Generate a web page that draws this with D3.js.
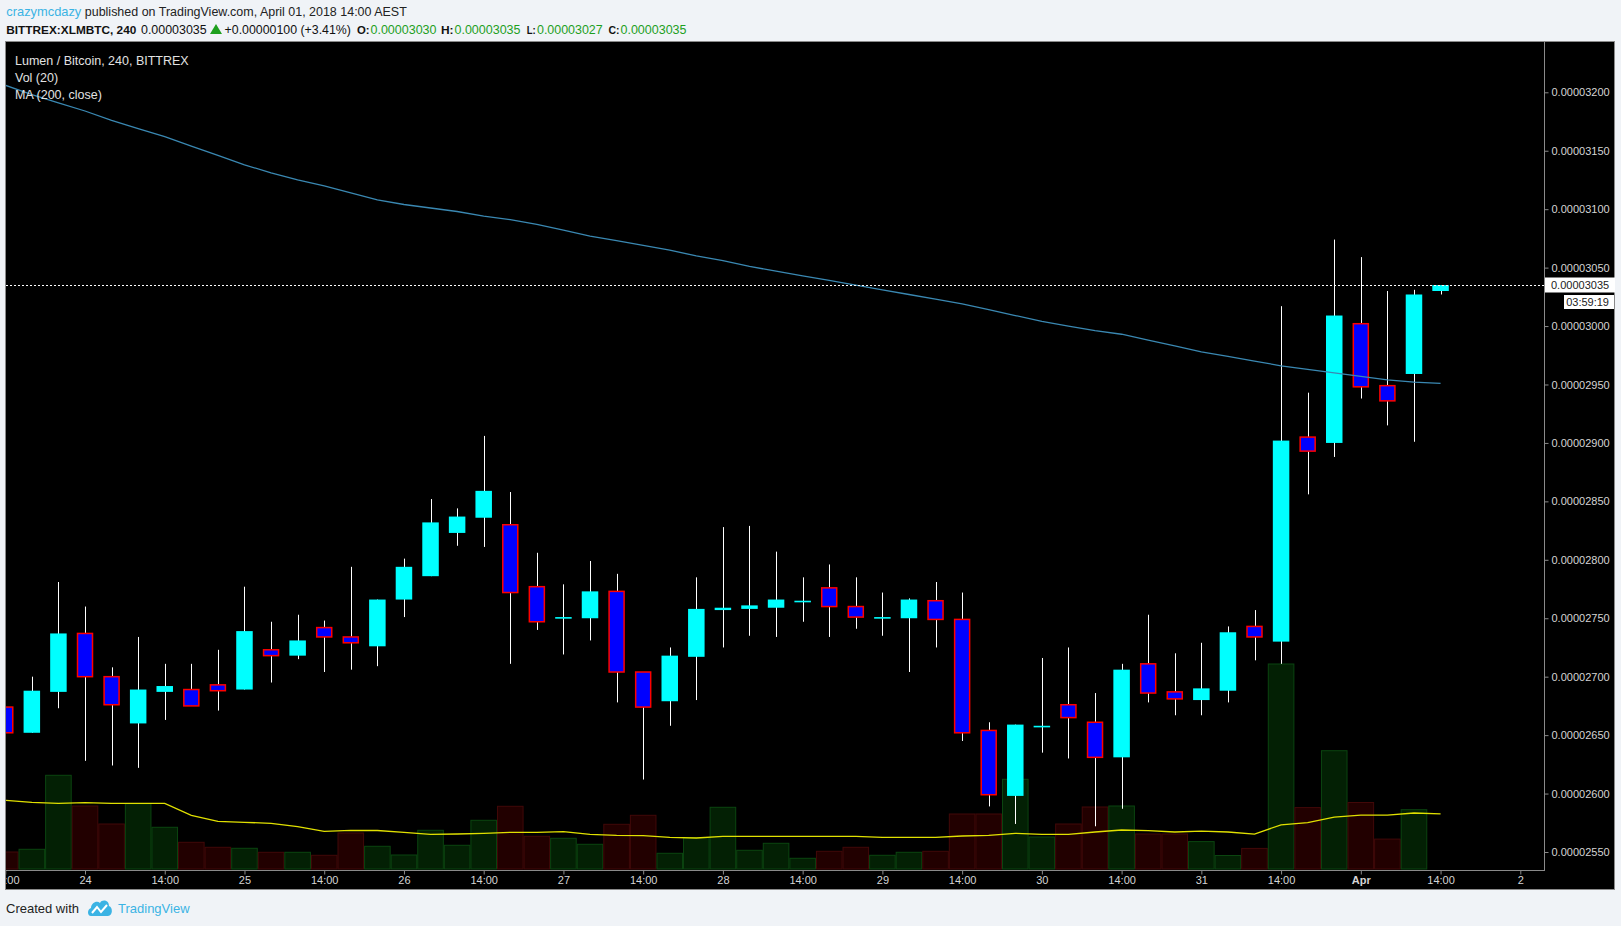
<!DOCTYPE html>
<html>
<head>
<meta charset="utf-8">
<script src="https://cdnjs.cloudflare.com/ajax/libs/d3/7.8.5/d3.min.js"></script>
<style>
  body { margin: 0; background: #f0f3f7; }
  svg text { font-family: "Liberation Sans", Arial, sans-serif; }
</style>
</head>
<body>
<div id="chart"></div>
<script>

// prices are in units of 0.00000001 BTC, first candle is index -3 (23rd, 14:00)
var firstIndex = -3;

var opens  = [2674, 2652, 2687, 2737, 2700, 2660, 2687, 2689, 2693, 2689, 2723, 2718, 2742, 2734,
              2726, 2766, 2786, 2823, 2836, 2830, 2777, 2751, 2750, 2773, 2704, 2679, 2717, 2757,
              2758, 2759, 2765, 2776, 2760, 2751, 2750, 2765, 2749, 2654, 2598, 2658, 2676, 2661,
              2631, 2711, 2687, 2680, 2688, 2743, 2730, 2905, 2900, 3002, 2949, 2959, 3030];
var highs  = [2676, 2700, 2781, 2760, 2708, 2734, 2711, 2711, 2723, 2777, 2747, 2753, 2748, 2794,
              2766, 2801, 2852, 2844, 2906, 2858, 2806, 2779, 2799, 2788, 2704, 2725, 2785, 2828,
              2829, 2807, 2785, 2796, 2785, 2772, 2767, 2781, 2772, 2661, 2659, 2716, 2725, 2686,
              2711, 2753, 2720, 2729, 2743, 2757, 3017, 2943, 3074, 3059, 3030, 3031, 3035];
var lows   = [2650, 2652, 2673, 2628, 2624, 2622, 2663, 2675, 2671, 2689, 2695, 2715, 2704, 2706,
              2709, 2751, 2786, 2812, 2811, 2711, 2740, 2719, 2731, 2678, 2612, 2658, 2680, 2725,
              2735, 2734, 2747, 2734, 2741, 2735, 2704, 2725, 2645, 2589, 2574, 2635, 2630, 2572,
              2587, 2678, 2667, 2667, 2678, 2714, 2711, 2856, 2888, 2938, 2915, 2901, 3027];
var closes = [2652, 2688, 2737, 2700, 2676, 2689, 2692, 2675, 2688, 2739, 2718, 2731, 2734, 2729,
              2766, 2794, 2832, 2837, 2859, 2772, 2747, 2751, 2773, 2704, 2674, 2718, 2758, 2759,
              2761, 2766, 2765, 2760, 2751, 2751, 2766, 2749, 2652, 2599, 2659, 2658, 2665, 2631,
              2706, 2686, 2681, 2690, 2738, 2734, 2902, 2893, 3009, 2948, 2936, 3027, 3035];

// volume (relative units) and its 20 period average
var volumes  = [170, 197, 937, 630, 450, 653, 417, 267, 217, 207, 167, 167, 137, 360,
                227, 140, 387, 237, 487, 627, 327, 307, 247, 447, 537, 157, 313, 617,
                187, 257, 107, 177, 217, 137, 167, 177, 550, 550, 897, 320, 450, 620,
                630, 350, 350, 274, 135, 206, 2050, 614, 1183, 665, 299, 593, 0];
var volumeMA = [687, 667, 657, 663, 657, 657, 657, 537, 477, 467, 457, 423, 377, 387,
                385, 367, 347, 350, 357, 367, 367, 373, 347, 337, 333, 317, 310, 327,
                327, 327, 327, 327, 327, 317, 317, 317, 330, 337, 357, 347, 347, 370,
                390, 383, 370, 379, 370, 349, 442, 463, 518, 539, 539, 560, 551];

// MA (200, close)
var ma200 = [3206, 3198, 3191, 3184, 3176, 3169, 3162, 3154, 3146, 3138, 3131, 3125, 3120, 3114,
             3108, 3104, 3101, 3098, 3094, 3091, 3087, 3082, 3077, 3073, 3069, 3065, 3060, 3056,
             3051, 3047, 3043, 3039, 3035, 3031, 3027, 3023, 3019, 3014, 3009, 3004, 3000, 2996,
             2993, 2988, 2983, 2978, 2974, 2970, 2966, 2963, 2960, 2957, 2954, 2952, 2951];

var timeTicks  = [-3, 0, 3, 6, 9, 12, 15, 18, 21, 24, 27, 30, 33, 36, 39, 42, 45, 48, 51, 54];
var timeLabels = ["14:00", "24", "14:00", "25", "14:00", "26", "14:00", "27", "14:00", "28",
                  "14:00", "29", "14:00", "30", "14:00", "31", "14:00", "Apr", "14:00", "2"];
var priceTicks = d3.range(2550, 3201, 50);
var lastPrice = 3035;
var countdown = "03:59:19";

var candles = opens.map(function(o, k) {
  return {i: k + firstIndex, o: o, h: highs[k], l: lows[k], c: closes[k],
          v: volumes[k], vma: volumeMA[k], ma: ma200[k]};
});

var width = 1621, height = 926;
var plotLeft = 6, plotRight = 1544, plotTop = 42, plotBottom = 870;

var svg = d3.select("#chart").append("svg")
  .attr("width", width)
  .attr("height", height);

var x = d3.scaleLinear().domain([0, 54]).range([85, 1520.3]);
var y = d3.scaleLinear().domain([2550, 3200]).range([852, 92.3]);
var yv = d3.scaleLinear().domain([0, 2050]).range([869, 664]);
var step = x(1) - x(0);

function fmt(p) { return (p / 1e8).toFixed(8); }

// ---- header
svg.append("text")
  .attr("x", 6.3).attr("y", 16)
  .attr("font-size", "13px")
  .attr("fill", "#3bb3e4")
  .attr("textLength", 75).attr("lengthAdjust", "spacingAndGlyphs")
  .text("crazymcdazy");
svg.append("text")
  .attr("x", 84.8).attr("y", 16)
  .attr("font-size", "12.5px")
  .attr("fill", "#222")
  .attr("textLength", 322).attr("lengthAdjust", "spacingAndGlyphs")
  .text("published on TradingView.com, April 01, 2018 14:00 AEST");

var green = "#1ea01e";
var headParts = [
  {x: 6.3,   w: 130, t: "BITTREX:XLMBTC, 240", b: true, c: "#111"},
  {x: 141,   w: 65.7, t: "0.00003035", b: false, c: "#111"},
  {x: 224.6, w: 126.3, t: "+0.00000100 (+3.41%)", b: false, c: "#111"},
  {x: 357,   w: 12.6, t: "O:", b: true, c: "#111"},
  {x: 370.5, w: 66, t: fmt(opens[opens.length - 1]), b: false, c: green},
  {x: 441,   w: 12.6, t: "H:", b: true, c: "#111"},
  {x: 454.5, w: 66, t: fmt(highs[highs.length - 1]), b: false, c: green},
  {x: 526.8, w: 9, t: "L:", b: true, c: "#111"},
  {x: 537,   w: 65.7, t: fmt(lows[lows.length - 1]), b: false, c: green},
  {x: 608.5, w: 11, t: "C:", b: true, c: "#111"},
  {x: 620.5, w: 66, t: fmt(closes[closes.length - 1]), b: false, c: green}
];
svg.selectAll(".head2")
  .data(headParts)
  .enter()
  .append("text")
  .attr("class", "head2")
  .attr("x", function(d){ return d.x; })
  .attr("y", 34)
  .attr("font-size", function(d){ return d.b ? "11.5px" : "12.5px"; })
  .attr("font-weight", function(d){ return d.b ? "bold" : "normal"; })
  .attr("fill", function(d){ return d.c; })
  .attr("textLength", function(d){ return d.w; })
  .attr("lengthAdjust", "spacingAndGlyphs")
  .text(function(d){ return d.t; });

svg.append("path")
  .attr("d", "M210,34 L216,24 L222,34 Z")
  .attr("fill", green);

// ---- panel
svg.append("rect")
  .attr("x", 5.5).attr("y", 41.5)
  .attr("width", 1609).attr("height", 848)
  .attr("fill", "#000")
  .attr("stroke", "#8a8a8a");

svg.append("clipPath").attr("id", "plotClip")
  .append("rect")
  .attr("x", plotLeft).attr("y", plotTop)
  .attr("width", plotRight - plotLeft).attr("height", plotBottom - plotTop);

svg.append("clipPath").attr("id", "timeClip")
  .append("rect")
  .attr("x", plotLeft).attr("y", plotBottom)
  .attr("width", plotRight - plotLeft).attr("height", 19);

var plot = svg.append("g").attr("clip-path", "url(#plotClip)");

// volume
plot.selectAll(".vol")
  .data(candles.filter(function(d){ return d.v > 0; }))
  .enter()
  .append("rect")
  .attr("class", "vol")
  .attr("x", function(d){ return x(d.i) - step / 2 + 0.5; })
  .attr("width", step - 1)
  .attr("y", function(d){ return yv(d.v); })
  .attr("height", function(d){ return yv(0) - yv(d.v); })
  .attr("fill", function(d){ return d.c >= d.o ? "#032004" : "#220000"; })
  .attr("stroke", function(d){ return d.c >= d.o ? "#0b4510" : "#420808"; })
  .attr("stroke-width", 1);

plot.append("path")
  .datum(candles)
  .attr("fill", "none")
  .attr("stroke", "#e0e000")
  .attr("stroke-width", 1.3)
  .attr("d", d3.line()
    .x(function(d){ return x(d.i); })
    .y(function(d){ return yv(d.vma); }));

// wicks
plot.selectAll(".wick")
  .data(candles)
  .enter()
  .append("line")
  .attr("class", "wick")
  .attr("x1", function(d){ return Math.round(x(d.i)) + 0.5; })
  .attr("x2", function(d){ return Math.round(x(d.i)) + 0.5; })
  .attr("y1", function(d){ return y(d.h); })
  .attr("y2", function(d){ return y(d.l); })
  .attr("stroke", "#fff")
  .attr("stroke-width", 1);

// bodies
plot.selectAll(".body")
  .data(candles)
  .enter()
  .append("rect")
  .attr("class", "body")
  .attr("x", function(d){ return d.c >= d.o ? x(d.i) - 8.25 : x(d.i) - 7.5; })
  .attr("width", function(d){ return d.c >= d.o ? 16.5 : 15; })
  .attr("y", function(d){ return y(Math.max(d.o, d.c)); })
  .attr("height", function(d){ return Math.max(1.6, Math.abs(y(d.o) - y(d.c))); })
  .attr("fill", function(d){ return d.c >= d.o ? "#00ffff" : "#0000ff"; })
  .attr("stroke", function(d){ return d.c >= d.o ? "none" : "#ff0000"; })
  .attr("stroke-width", 1.5);

// MA 200
plot.append("path")
  .datum(candles)
  .attr("fill", "none")
  .attr("stroke", "#3a88b2")
  .attr("stroke-width", 1.3)
  .attr("d", d3.line()
    .x(function(d){ return x(d.i); })
    .y(function(d){ return y(d.ma); }));

// last price line
plot.append("line")
  .attr("x1", plotLeft).attr("x2", plotRight)
  .attr("y1", Math.round(y(lastPrice)) + 0.5)
  .attr("y2", Math.round(y(lastPrice)) + 0.5)
  .attr("stroke", "#fff")
  .attr("stroke-dasharray", "2,2");

// legend
var legend = ["Lumen / Bitcoin, 240, BITTREX", "Vol (20)", "MA (200, close)"];
svg.selectAll(".legend")
  .data(legend)
  .enter()
  .append("text")
  .attr("class", "legend")
  .attr("x", 15)
  .attr("y", function(d, i){ return 65 + i * 17; })
  .attr("font-size", "12.5px")
  .attr("fill", "#e2e2e2")
  .text(function(d){ return d; });

// ---- axes
svg.append("line")
  .attr("x1", plotRight + 0.5).attr("x2", plotRight + 0.5)
  .attr("y1", plotTop).attr("y2", plotBottom + 1)
  .attr("stroke", "#8a8a8a");
svg.append("line")
  .attr("x1", plotLeft).attr("x2", plotRight + 1)
  .attr("y1", plotBottom + 0.5).attr("y2", plotBottom + 0.5)
  .attr("stroke", "#8a8a8a");

var yAxis = svg.append("g")
  .attr("transform", "translate(" + (plotRight + 0.5) + ",0)")
  .call(d3.axisRight(y).tickValues(priceTicks).tickSize(4).tickPadding(3).tickFormat(fmt));
yAxis.select(".domain").remove();
yAxis.selectAll("line").attr("stroke", "#8a8a8a");
yAxis.selectAll("text")
  .attr("fill", "#d4d4d4")
  .attr("font-size", "11px")
  .style("font-family", "'Liberation Sans', Arial, sans-serif");

var xAxis = svg.append("g")
  .attr("clip-path", "url(#timeClip)")
  .append("g")
  .attr("transform", "translate(0," + (plotBottom + 0.5) + ")")
  .call(d3.axisBottom(x).tickValues(timeTicks).tickSize(4).tickPadding(2)
    .tickFormat(function(d, i){ return timeLabels[i]; }));
xAxis.select(".domain").remove();
xAxis.selectAll("line").attr("stroke", "#8a8a8a");
xAxis.selectAll("text")
  .attr("fill", "#d4d4d4")
  .attr("font-size", "11px")
  .attr("font-weight", function(d, i){ return timeLabels[i] === "Apr" ? "bold" : "normal"; })
  .style("font-family", "'Liberation Sans', Arial, sans-serif");

// last price label + countdown
var ly = Math.round(y(lastPrice));
svg.append("rect")
  .attr("x", plotRight + 1).attr("y", ly - 7.5)
  .attr("width", 70).attr("height", 15)
  .attr("fill", "#fff");
svg.append("text")
  .attr("x", plotRight + 7).attr("y", ly + 4)
  .attr("font-size", "11px")
  .attr("fill", "#222")
  .text(fmt(lastPrice));
svg.append("rect")
  .attr("x", 1564).attr("y", ly + 10)
  .attr("width", 50).attr("height", 14)
  .attr("fill", "#fff");
svg.append("text")
  .attr("x", 1609).attr("y", ly + 21)
  .attr("text-anchor", "end")
  .attr("font-size", "11px")
  .attr("fill", "#222")
  .text(countdown);

// ---- footer
svg.append("text")
  .attr("x", 6).attr("y", 913)
  .attr("font-size", "13px")
  .attr("fill", "#222")
  .text("Created with");

var logo = svg.append("g").attr("transform", "translate(88,899)");
logo.append("path")
  .attr("d", "M3,17 C-1,17 -1,10 3,9 C3,4 9,1 12,4 C14,0 21,1 21,7 C25,8 25,17 20,17 Z")
  .attr("fill", "#3bb3e4");
logo.append("polyline")
  .attr("points", "4,14 9,8 13,13 19,6")
  .attr("fill", "none")
  .attr("stroke", "#fff")
  .attr("stroke-width", 2);

svg.append("text")
  .attr("x", 118).attr("y", 913)
  .attr("font-size", "13px")
  .attr("fill", "#3bb3e4")
  .text("TradingView");

</script>
</body>
</html>
